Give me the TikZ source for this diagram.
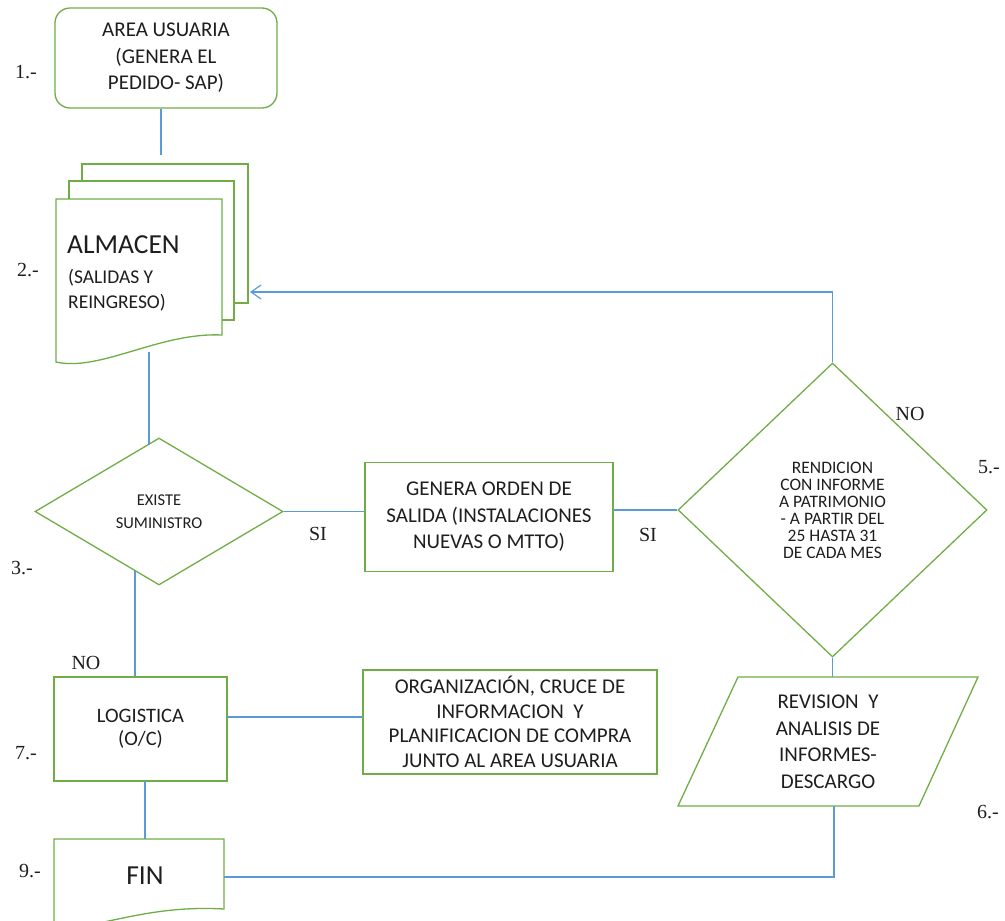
\documentclass[tikz,border=0pt]{standalone}
\usepackage{fontspec}
\setmainfont{Carlito}
\newfontfamily\serifnum{Liberation Serif}
\usetikzlibrary{shapes.geometric,arrows.meta}
\definecolor{gr}{RGB}{112,173,71}
\definecolor{bl}{RGB}{91,155,213}
\definecolor{tx}{RGB}{30,30,30}
\begin{document}
\begin{tikzpicture}[x=1pt,y=-1pt,
  shapeline/.style={draw=gr,line width=1.3pt},
  conn/.style={draw=bl,line width=1.2pt},
  txt/.style={align=center,font=\fontsize{21}{26.5}\selectfont,inner sep=0pt,text=tx},
  num/.style={font=\serifnum\fontsize{20}{24}\selectfont,inner sep=0pt,text=tx}]
\useasboundingbox (0,0) rectangle (1005,921);

% 1
\node[shapeline,rounded corners=15pt,minimum width=222pt,minimum height=100pt,txt] (au) at (166,58) {AREA USUARIA\\(GENERA EL\\PEDIDO- SAP)};

% 2 multi-document
\draw[shapeline] (82,181) -- (82,164) -- (248,164) -- (248,303) -- (234,303);
\draw[shapeline] (69,199) -- (69,181) -- (234,181) -- (234,320) -- (222,320);
\draw[shapeline,fill=white] (56,362) -- (56,199) -- (222,199) -- (222,335) .. controls (160,332) and (100,372) .. (56,362) -- cycle;
\node[anchor=base west,font=\fontsize{27.5}{30}\selectfont,inner sep=0pt,text=tx] (almT) at (67,253) {ALMACEN};
\node[anchor=base west,font=\fontsize{19.5}{24}\selectfont,inner sep=0pt,text=tx] (almS1) at (68,283) {(SALIDAS Y};
\node[anchor=base west,font=\fontsize{19.5}{24}\selectfont,inner sep=0pt,text=tx] (almS2) at (68,308) {REINGRESO)};
\coordinate (almTop) at (161,155);
\coordinate (almBot) at (149,352);
\coordinate (almIn) at (250,292);

% 3 diamond
\node[diamond,shapeline,minimum width=248pt,minimum height=147pt,inner sep=0pt,align=center,font=\fontsize{16.5}{23}\selectfont,text=tx] (d1) at (159,511.5) {EXISTE\\SUMINISTRO};
\coordinate (d1t) at (149,445);
\coordinate (d1b) at (135,571);

% middle box
\node[rectangle,shapeline,minimum width=248pt,minimum height=109pt,txt] (ord) at (489,517) {GENERA ORDEN DE\\SALIDA (INSTALACIONES\\NUEVAS O MTTO)};

% 5 diamond
\node[diamond,shapeline,minimum width=309pt,minimum height=294pt,inner sep=0pt,align=center,font=\fontsize{17.5}{17}\selectfont,text=tx] (d2) at (832.5,510) {RENDICION\\CON INFORME\\A PATRIMONIO\\- A PARTIR DEL\\25 HASTA 31\\DE CADA MES};

% 6 parallelogram
\draw[shapeline] (738,677) -- (978,677) -- (919,806) -- (678,806) -- cycle;
\node[txt] (rev) at (828,742) {REVISION \ Y\\ANALISIS DE\\INFORMES-\\DESCARGO};
\coordinate (revTop) at (833,677);
\coordinate (revBot) at (834,806);

% 7 logistica
\node[rectangle,shapeline,minimum width=173pt,minimum height=104pt,txt,font=\fontsize{20.5}{23}\selectfont] (log) at (140.5,729) {LOGISTICA\\(O/C)};
\node[rectangle,shapeline,minimum width=294pt,minimum height=104pt,txt,font=\fontsize{21}{24.5}\selectfont] (org) at (510,722) {ORGANIZACIÓN, CRUCE DE\\INFORMACION \ Y\\PLANIFICACION DE COMPRA\\JUNTO AL AREA USUARIA};
\coordinate (logR) at (227,717);
\coordinate (logB) at (145,781);

% 9 FIN
\begin{scope}
\clip (0,0) rectangle (1005,921);
\draw[shapeline] (54,930) -- (54,839) -- (224,839) -- (224,909) .. controls (150,905) and (110,925) .. (54,930);
\end{scope}
\node[font=\fontsize{27.5}{30}\selectfont,inner sep=0pt,text=tx] (fin) at (145,876) {FIN};
\coordinate (finTop) at (145,839);
\coordinate (finR) at (224,877);

% connectors
\draw[conn] (au.south -| almTop) -- (almTop);
\draw[conn] (almBot) -- (d1t);
\draw[conn] (d1.east) -- (d1.east -| ord.west);
\draw[conn] (ord.east |- d2.west) -- (d2.west);
\draw[conn,-{Straight Barb[length=10pt,width=14pt]}] (d2.north) |- (almIn);
\draw[conn] (d2.south) -- (d2.south |- revTop);
\draw[conn] (d1b) -- (d1b |- log.north);
\draw[conn] (logR) -- (logR -| org.west);
\draw[conn] (logB) -- (finTop);
\draw[conn] (revBot) |- (finR);

% labels
\node[num] (si1) at (318,534) {SI};
\node[num] (si2) at (648,535) {SI};
\node[num] (no1) at (910,414) {NO};
\node[num] (no2) at (86,663) {NO};
\node[num] (n1) at (26,72) {1.-};
\node[num] (n2) at (28,270) {2.-};
\node[num] (n3) at (22,568) {3.-};
\node[num] (n5) at (989,467) {5.-};
\node[num] (n6) at (988,812) {6.-};
\node[num] (n7) at (26,753) {7.-};
\node[num] (n9) at (30,871) {9.-};
\end{tikzpicture}
\end{document}
